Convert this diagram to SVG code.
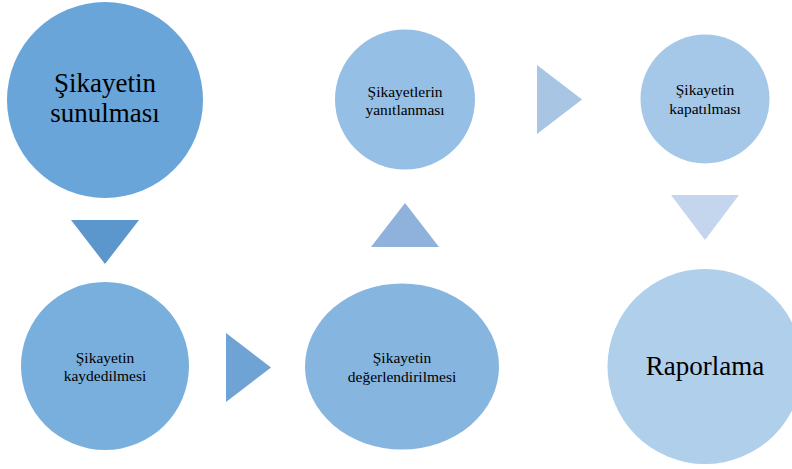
<svg xmlns="http://www.w3.org/2000/svg" width="792" height="469" viewBox="0 0 792 469" font-family="'Times New Roman', 'Liberation Serif', serif">
<rect width="792" height="469" fill="#fff"/>
<g id="connectors">
<polygon points="71,220 139,220 105,264" fill="#5b97cd"/>
<polygon points="226,333 271,367.5 226,402" fill="#6fa3d5"/>
<polygon points="371,247 439,247 405,203" fill="#8fb2dd"/>
<polygon points="537,65 582,99.5 537,134" fill="#a9c5e4"/>
<polygon points="671,195 739,195 705,240" fill="#c3d6ed"/>
</g>
<g id="n1">
<circle cx="105" cy="100" r="98" fill="#6aa5da"/>
<text font-size="27" text-anchor="middle" x="105" y="92">Şikayetin</text>
<text font-size="27" text-anchor="middle" x="105" y="122">sunulması</text>
</g>
<g id="n2">
<circle cx="105" cy="366" r="84" fill="#79afdd"/>
<text font-size="15.5" text-anchor="middle" x="105" y="363">Şikayetin</text>
<text font-size="15.5" text-anchor="middle" x="105" y="381">kaydedilmesi</text>
</g>
<g id="n3">
<ellipse cx="402" cy="366.5" rx="97" ry="83" fill="#86b5e0"/>
<text font-size="15.5" text-anchor="middle" x="402" y="363">Şikayetin</text>
<text font-size="15.5" text-anchor="middle" x="402" y="382">değerlendirilmesi</text>
</g>
<g id="n4">
<circle cx="405" cy="99.5" r="70" fill="#96bfe5"/>
<text font-size="15.5" text-anchor="middle" x="405" y="97">Şikayetlerin</text>
<text font-size="15.5" text-anchor="middle" x="405" y="115">yanıtlanması</text>
</g>
<g id="n5">
<circle cx="705" cy="99" r="64.5" fill="#a5c7e8"/>
<text font-size="15.5" text-anchor="middle" x="705" y="95">Şikayetin</text>
<text font-size="15.5" text-anchor="middle" x="705" y="114">kapatılması</text>
</g>
<g id="n6">
<circle cx="705" cy="366.5" r="97.5" fill="#b0cfeb"/>
<text font-size="27" text-anchor="middle" x="705" y="375">Raporlama</text>
</g>
</svg>
